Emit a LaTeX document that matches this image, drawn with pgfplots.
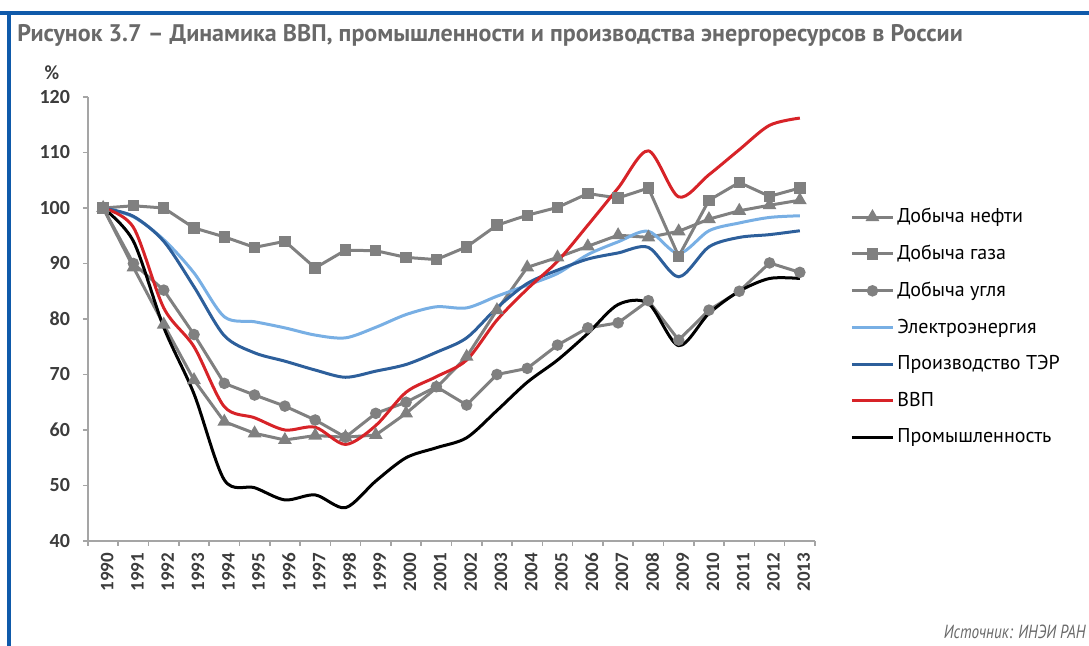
\documentclass[border=0pt]{standalone}
\usepackage{fontspec}
\setmainfont{Carlito}
\newfontfamily\titlefont{PT Sans}
\newfontfamily\legfont{PT Sans}
\newfontfamily\srcfont{PT Sans}[FakeStretch=0.8]
\usepackage{pgfplots}
\usepackage{pgfplotstable}
\pgfplotsset{compat=1.18}

\definecolor{frameblue}{RGB}{15,90,170}
\definecolor{titlegray}{RGB}{105,105,105}
\definecolor{txtgray}{RGB}{60,60,60}
\definecolor{axgray}{RGB}{165,165,165}
\definecolor{sergray}{RGB}{128,128,128}
\definecolor{lblue}{RGB}{120,175,228}
\definecolor{dblue}{RGB}{45,95,155}
\definecolor{gdpred}{RGB}{215,35,40}

\pgfplotstableread{
year oil   gas   coal el   ter  gdp   ind
1990 100   100   100  100  100  100   100
1991 89.3  100.4 90   98.4 98.5 96.5  94
1992 79    100   85.2 94.3 94   82    78.5
1993 69    96.4  77.2 88.3 85.8 75    66.5
1994 61.5  94.8  68.4 80.4 77   64.2  51
1995 59.4  92.9  66.3 79.5 73.9 62.2  49.6
1996 58.2  94    64.3 78.4 72.4 60    47.4
1997 59    89.2  61.8 77.1 70.8 60.5  48.3
1998 58.7  92.4  58.7 76.6 69.5 57.4  46
1999 59.1  92.3  63   78.5 70.6 60.8  50.8
2000 63    91.1  65   80.8 71.8 66.8  55
2001 67.6  90.7  67.8 82.2 74   69.6  56.8
2002 73.2  93    64.5 82   76.6 72.6  58.6
2003 81.6  96.9  70   84.1 82   79.8  63.5
2004 89.3  98.7  71.1 86.1 86.4 85.4  68.6
2005 91.1  100.1 75.3 88.2 88.8 90.4  72.6
2006 93.1  102.6 78.4 91.6 90.8 96.9  77.4
2007 95.1  101.8 79.3 93.9 91.9 103.6 82.6
2008 94.7  103.6 83.3 95.8 92.9 110.3 82.8
2009 95.8  91.3  76.2 91.8 87.6 102   75.2
2010 98    101.4 81.6 95.9 93   106   81
2011 99.5  104.6 85   97.3 94.7 110.5 85
2012 100.5 102.1 90.1 98.3 95.2 114.9 87.3
2013 101.4 103.6 88.4 98.6 95.9 116.2 87.3
}\data

\begin{document}
\begin{tikzpicture}
\useasboundingbox (0,0) rectangle (544.5pt,323pt);
% frame
\draw[frameblue, line width=2pt] (0,316.25pt) -- (544.5pt,316.25pt);
\draw[frameblue, line width=2pt] (4.5pt,317.25pt) -- (4.5pt,0);
% title
\node[anchor=west, inner sep=0pt, text=titlegray] at (8.5pt,305.5pt)
  {\titlefont\bfseries\fontsize{12}{14}\selectfont Рисунок 3.7 – Динамика ВВП, промышленности и производства энергоресурсов в России};
\node[text=txtgray, inner sep=0pt] at (26pt,286.5pt) {\fontsize{10}{11}\selectfont\bfseries \%};
% source
\node[anchor=east, inner sep=0pt, text=titlegray] at (543pt,7pt)
  {\srcfont\itshape\fontsize{9.5}{11}\selectfont Источник: ИНЭИ РАН};

\begin{axis}[
  at={(44pt,52.5pt)}, anchor=south west,
  width=363.5pt, height=222pt, scale only axis,
  xmin=1989.5, xmax=2013.5, ymin=40, ymax=120,
  axis x line*=bottom, axis y line*=left,
  xtick={1990,...,2013}, ytick={40,50,...,120},
  minor xtick={1989.5,1990.5,...,2013.5},
  tick align=outside,
  major tick length=2.5pt, minor tick length=2.5pt,
  major x tick style={draw=none},
  axis line style={axgray, line width=0.9pt},
  every tick/.style={axgray, line width=0.8pt},
  /pgf/number format/1000 sep={},
  /pgf/number format/assume math mode=true,
  ticklabel style={text=txtgray},
  yticklabel style={font=\fontsize{10}{12}\selectfont\bfseries, xshift=-3pt},
  xticklabel style={font=\fontsize{9.5}{11}\selectfont\bfseries, rotate=90, anchor=east, yshift=-2pt},
  legend style={at={(1.040,0.766)}, anchor=north west, draw=none, fill=none,
    font=\legfont\fontsize{10}{11}\selectfont, text=black, row sep=6.7pt,
    nodes={inner sep=1.5pt}},
  legend cell align=left,
  legend image code/.code={\draw[mark repeat=2,mark phase=2] plot coordinates {(0pt,0pt) (10.25pt,0pt) (20.5pt,0pt)};},
  clip=false,
]
\addplot[sergray, line width=1.5pt, mark=triangle*, mark size=2.5pt, mark options={fill=sergray}] table[x=year, y=oil] {\data};
\addlegendentry{Добыча нефти}
\addplot[sergray, line width=1.5pt, mark=square*, mark size=2.1pt, mark options={fill=sergray}] table[x=year, y=gas] {\data};
\addlegendentry{Добыча газа}
\addplot[sergray, line width=1.5pt, mark=*, mark size=2.1pt, mark options={fill=sergray}] table[x=year, y=coal] {\data};
\addlegendentry{Добыча угля}
\addplot[lblue, line width=1.5pt, smooth] table[x=year, y=el] {\data};
\addlegendentry{Электроэнергия}
\addplot[dblue, line width=1.5pt, smooth] table[x=year, y=ter] {\data};
\addlegendentry{Производство ТЭР}
\addplot[gdpred, line width=1.5pt, smooth] table[x=year, y=gdp] {\data};
\addlegendentry{ВВП}
\addplot[black, line width=1.5pt, smooth] table[x=year, y=ind] {\data};
\addlegendentry{Промышленность}
\end{axis}
\end{tikzpicture}
\end{document}
